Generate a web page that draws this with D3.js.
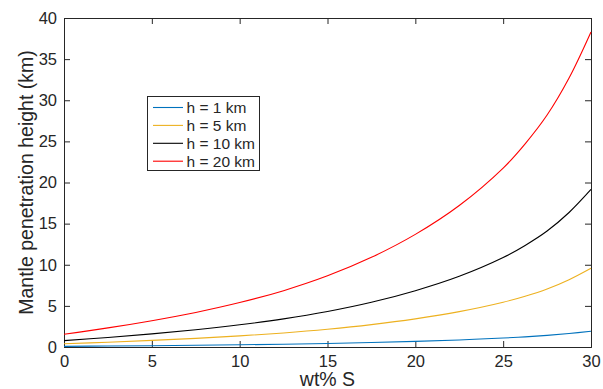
<!DOCTYPE html>
<html><head><meta charset="utf-8">
<script src="https://cdn.jsdelivr.net/npm/d3@7"></script>
<style>body{margin:0;background:#fff}svg{display:block}text{font-family:"Liberation Sans",Arial,Helvetica,sans-serif;fill:#262626}</style>
</head><body><svg id="c" width="603" height="389"></svg>
<script>
const wtS   = [0, 2.5, 5, 7.5, 10, 12.5, 15, 17.5, 20, 22.5, 25, 26.25, 27.5, 28.75, 30];
const h1km  = [0.08, 0.12, 0.16, 0.21, 0.27, 0.34, 0.43, 0.54, 0.68, 0.86, 1.09, 1.23, 1.41, 1.64, 1.91];
const h5km  = [0.39, 0.58, 0.80, 1.05, 1.35, 1.71, 2.16, 2.72, 3.42, 4.30, 5.44, 6.17, 7.05, 8.18, 9.57];
const h10km = [0.77, 1.16, 1.60, 2.10, 2.70, 3.42, 4.32, 5.44, 6.85, 8.60, 10.88, 12.35, 14.10, 16.35, 19.15];
const h20km = [1.55, 2.32, 3.20, 4.20, 5.40, 6.85, 8.65, 10.90, 13.69, 17.20, 21.75, 24.70, 28.20, 32.70, 38.30];
const seriesNames = ["h = 1 km", "h = 5 km", "h = 10 km", "h = 20 km"];
const seriesColors = ["#0072BD", "#EDB120", "#000000", "#FF0000"];
const xTicks = [0, 5, 10, 15, 20, 25, 30];
const yTicks = [0, 5, 10, 15, 20, 25, 30, 35, 40];

const svg = d3.select("#c");
const L = 64, R = 591, T = 18, B = 347;
const x = d3.scaleLinear().domain([0, 30]).range([L, R]);
const y = d3.scaleLinear().domain([0, 40]).range([B, T]);
const tick = 6;
const axCol = "#262626";

const gx = svg.append("g").attr("transform", `translate(0,${B})`)
  .call(d3.axisBottom(x).tickValues(xTicks).tickSize(-tick).tickPadding(8).tickFormat(d3.format("d")));
const gxTop = svg.append("g").attr("transform", `translate(0,${T})`)
  .call(d3.axisTop(x).tickValues(xTicks).tickSize(-tick).tickFormat(""));
const gy = svg.append("g").attr("transform", `translate(${L},0)`)
  .call(d3.axisLeft(y).tickValues(yTicks).tickSize(-tick).tickPadding(7).tickFormat(d3.format("d")));
const gyR = svg.append("g").attr("transform", `translate(${R},0)`)
  .call(d3.axisRight(y).tickValues(yTicks).tickSize(-tick).tickFormat(""));
[gx, gxTop, gy, gyR].forEach(g => {
  g.select(".domain").attr("stroke", axCol).attr("stroke-width", 1);
  g.selectAll(".tick line").attr("stroke", axCol).attr("stroke-width", 1);
  g.selectAll(".tick text").attr("font-size", 16.5).attr("fill", axCol)
    .style("font-family", '"Liberation Sans",Arial,sans-serif');
});
gx.selectAll(".tick text").attr("dy", "0.71em");

const series = [h1km, h5km, h10km, h20km];
const line = d3.line().x((d, i) => x(wtS[i])).y(d => y(d)).curve(d3.curveCatmullRom.alpha(0.5));
series.forEach((s, k) => {
  svg.append("path").datum(s).attr("d", line).attr("fill", "none")
    .attr("stroke", seriesColors[k]).attr("stroke-width", 1.1);
});

svg.append("text").attr("x", (L + R) / 2).attr("y", 386).attr("text-anchor", "middle")
  .attr("font-size", 19.5).text("wt% S");
svg.append("text").attr("transform", `translate(33,${(T + B) / 2}) rotate(-90)`)
  .attr("text-anchor", "middle").attr("font-size", 19.5).text("Mantle penetration height (km)");

const lg = svg.append("g");
lg.append("rect").attr("x", 147.5).attr("y", 96.5).attr("width", 112).attr("height", 74)
  .attr("fill", "#fff").attr("stroke", axCol).attr("stroke-width", 1);
seriesNames.forEach((n, k) => {
  const yy = 107.5 + k * 17.9;
  lg.append("line").attr("x1", 153).attr("x2", 183).attr("y1", yy).attr("y2", yy)
    .attr("stroke", seriesColors[k]).attr("stroke-width", 1.1);
  lg.append("text").attr("x", 186.5).attr("y", yy).attr("dy", "0.36em")
    .attr("font-size", 15.5).attr("fill", "#000").text(n);
});
</script></body></html>
